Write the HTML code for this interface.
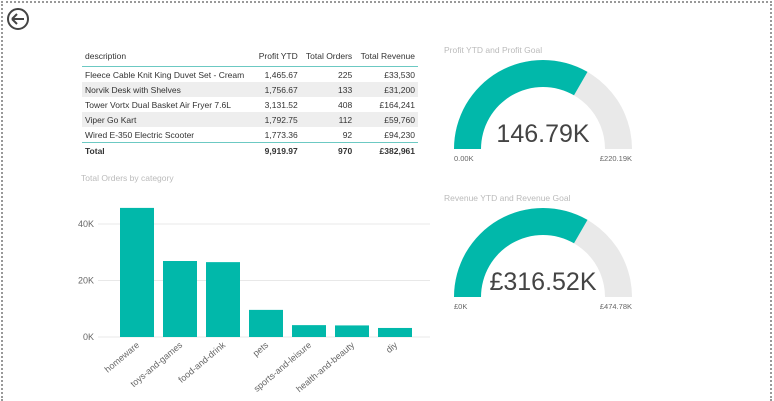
<!DOCTYPE html>
<html style="overflow:hidden"><head><meta charset="utf-8"><style>
html,body{margin:0;width:774px;height:401px;overflow:hidden}
body{background:#fff;font-family:"Liberation Sans",sans-serif;position:relative}
.border{position:absolute;left:1px;top:1px;width:771px;height:400px;border:2px dotted #999;border-bottom:none;box-sizing:border-box}
table{position:absolute;left:82px;top:45px;width:336px;border-collapse:collapse;font-size:8.5px;color:#333}
td,th{padding:0 3px;height:15px;white-space:nowrap;font-weight:normal}
th{height:21px;text-align:right}
th:first-child,td:first-child{text-align:left}
td{text-align:right}
tr.hd th{border-bottom:1.5px solid #6cc9c3}
tr.g td{background:#eeeeee}
tr.tot td{font-weight:bold;border-top:1.5px solid #6cc9c3;height:16px}
.t{position:absolute;font-size:8.5px;color:#bbb}
</style></head><body>
<div class="border"></div>
<svg style="position:absolute;left:6px;top:7px" width="25" height="25"><circle cx="12" cy="12" r="10" fill="none" stroke="#444" stroke-width="2"/><path d="M6 12h12M6 12l5-5M6 12l5 5" stroke="#444" stroke-width="2" fill="none"/></svg>
<table>
<tr class="hd"><th>description</th><th>Profit YTD</th><th>Total Orders</th><th>Total Revenue</th></tr>
<tr><td>Fleece Cable Knit King Duvet Set - Cream</td><td>1,465.67</td><td>225</td><td>£33,530</td></tr>
<tr class="g"><td>Norvik Desk with Shelves</td><td>1,756.67</td><td>133</td><td>£31,200</td></tr>
<tr><td>Tower Vortx Dual Basket Air Fryer 7.6L</td><td>3,131.52</td><td>408</td><td>£164,241</td></tr>
<tr class="g"><td>Viper Go Kart</td><td>1,792.75</td><td>112</td><td>£59,760</td></tr>
<tr><td>Wired E-350 Electric Scooter</td><td>1,773.36</td><td>92</td><td>£94,230</td></tr>
<tr class="tot"><td>Total</td><td>9,919.97</td><td>970</td><td>£382,961</td></tr>
</table>
<div class="t" style="left:81px;top:173px">Total Orders by category</div>
<div class="t" style="left:444px;top:45px">Profit YTD and Profit Goal</div>
<div class="t" style="left:444px;top:193px">Revenue YTD and Revenue Goal</div>
<svg id="chart" width="774" height="401" style="position:absolute;left:0;top:0"></svg>
<script>
const categories=["homeware","toys-and-games","food-and-drink","pets","sports-and-leisure","health-and-beauty","diy"];
const orders=[45700,26900,26500,9600,4200,4100,3200];
const yTicks=[0,20000,40000];
const yTickLabels=["0K","20K","40K"];
const gaugeValues=[146.79,316.52];
const gaugeMax=[220.19,474.78];
const gaugeLabels=["146.79K","£316.52K"];
const gaugeMinLabels=["0.00K","£0K"];
const gaugeMaxLabels=["£220.19K","£474.78K"];
const NS="http://www.w3.org/2000/svg";
const svg=document.getElementById('chart');
function mk(t,a,txt){const e=document.createElementNS(NS,t);for(const k in a)e.setAttribute(k,a[k]);if(txt!=null)e.textContent=txt;svg.appendChild(e);return e;}
const y0=337,pxPer=56.5/20000;
const y=v=>y0-v*pxPer;
const x=i=>120+i*43;
yTicks.forEach((t,i)=>{
 const l=mk('line',{x1:98,x2:430,y1:y(t),y2:y(t),stroke:'#e8e8e8','stroke-width':1});
 
 
 const tx=mk('text',{x:94,y:y(t)+3,'text-anchor':'end','font-size':9,fill:'#666','font-family':'Liberation Sans'},yTickLabels[i]);
 
 
});
categories.forEach((c,i)=>{
 const r=mk('rect',{x:x(i),y:y(orders[i]),width:34,height:y0-y(orders[i]),fill:'#01b8aa'});
 
 
 const cx=x(i)+17;
 const tx=mk('text',{x:cx+3,y:y0+9,'text-anchor':'end','font-size':9,fill:'#666','font-family':'Liberation Sans',transform:`rotate(-40 ${cx+3} ${y0+9})`},c);
 
 
});
function arc(cx,cy,ro,ri,a0,a1,fill){
 const p=(r,a)=>[cx-r*Math.cos(a),cy-r*Math.sin(a)];
 const [x1,y1]=p(ro,a0),[x2,y2]=p(ro,a1),[x3,y3]=p(ri,a1),[x4,y4]=p(ri,a0);
 return mk('path',{d:`M${x1} ${y1}A${ro} ${ro} 0 0 1 ${x2} ${y2}L${x3} ${y3}A${ri} ${ri} 0 0 0 ${x4} ${y4}Z`,fill});
}
[149,297].forEach((cy,i)=>{
 const cx=543,f=gaugeValues[i]/gaugeMax[i];
 const bg=arc(cx,cy,89,62,0,Math.PI,'#e9e9e9');
 
 
 const fg=arc(cx,cy,89,62,0,Math.PI*f,'#01b8aa');
 
 
 const v=mk('text',{x:cx,y:cy-7,'text-anchor':'middle','font-size':25,fill:'#444','font-family':'Liberation Sans Narrow, Liberation Sans'},gaugeLabels[i]);
 
 
 const mn=mk('text',{x:454,y:cy+12,'font-size':7.5,fill:'#666','font-family':'Liberation Sans'},gaugeMinLabels[i]);
 
 
 const mx=mk('text',{x:632,y:cy+12,'text-anchor':'end','font-size':7.5,fill:'#666','font-family':'Liberation Sans'},gaugeMaxLabels[i]);
 
 
});
</script>
</body></html>
